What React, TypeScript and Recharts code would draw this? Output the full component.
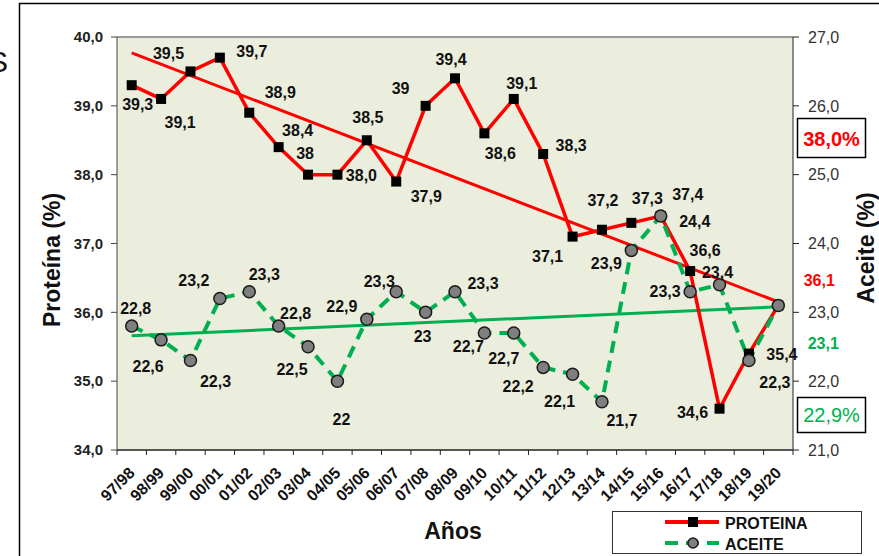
import React from 'react';
import { ComposedChart, Line, XAxis, YAxis, CartesianGrid, ReferenceLine, LabelList } from 'recharts';

const SEASONS = ['97/98', '98/99', '99/00', '00/01', '01/02', '02/03', '03/04', '04/05', '05/06', '06/07', '07/08', '08/09', '09/10', '10/11', '11/12', '12/13', '13/14', '14/15', '15/16', '16/17', '17/18', '18/19', '19/20'];
const PROTEINA = [39.3, 39.1, 39.5, 39.7, 38.9, 38.4, 38.0, 38.0, 38.5, 37.9, 39.0, 39.4, 38.6, 39.1, 38.3, 37.1, 37.2, 37.3, 37.4, 36.6, 34.6, 35.4, 36.1];
const ACEITE = [22.8, 22.6, 22.3, 23.2, 23.3, 22.8, 22.5, 22.0, 22.9, 23.3, 23.0, 23.3, 22.7, 22.7, 22.2, 22.1, 21.7, 23.9, 24.4, 23.3, 23.4, 22.3, 23.1];
const PROT_LABELS = ['39,3', '39,1', '39,5', '39,7', '38,9', '38,4', '38', '38,0', '38,5', '37,9', '39', '39,4', '38,6', '39,1', '38,3', '37,1', '37,2', '37,3', '37,4', '36,6', '34,6', '35,4', '36,1'];
const ACE_LABELS = ['22,8', '22,6', '22,3', '23,2', '23,3', '22,8', '22,5', '22', '22,9', '23,3', '23', '23,3', '22,7', '22,7', '22,2', '22,1', '21,7', '23,9', '24,4', '23,3', '23,4', '22,3', '23,1'];
// trend line end values (first and last season)
const PROT_TREND = [39.77, 36.15];
const ACE_TREND = [22.66, 23.08];
const LEFT_TICKS = [34, 35, 36, 37, 38, 39, 40];
const RIGHT_TICKS = [21, 22, 23, 24, 25, 26, 27];

// label placement around each point (dx, dy)
const PROT_OFF = [[6, 19], [19, 24], [-22, -18], [32, -6], [31, -20], [19, -17], [-3, -21], [24, 1], [1, -23], [30, 15], [-25, -17], [-4, -19], [16, 20], [8, -15], [28, -9], [-25, 20], [1, -29], [16, -24], [27, -21], [15, -21], [-27, 4], [33, 1], [41, -25]];
const ACE_OFF = [[4, -18], [-13, 27], [25, 21], [-26, -18], [15, -17], [17, -13], [-16, 23], [4, 38], [-25, -13], [-17, -10], [-3, 24], [28, -8], [-16, 14], [-10, 26], [-25, 19], [-13, 27], [20, 19], [-25, 13], [34, 6], [-25, 0], [-2, -12], [26, 22], [45, 38]];

const FONT = "'Liberation Sans', Arial, sans-serif";
const RED = '#ff0000';
const GREEN = '#00b050';
const W = 879;
const H = 556;
const PLOT_L = 117;
const PLOT_R = 793;
const BAND = (PLOT_R - PLOT_L) / SEASONS.length;

const data = SEASONS.map((s, i) => ({
  season: s,
  prot: PROTEINA[i],
  ace: ACEITE[i],
  trendP: i === 0 ? PROT_TREND[0] : i === SEASONS.length - 1 ? PROT_TREND[1] : null,
  trendA: i === 0 ? ACE_TREND[0] : i === SEASONS.length - 1 ? ACE_TREND[1] : null,
}));

const fmt = (v: number) => v.toFixed(1).replace('.', ',');

const SquareDot = (p: any) => (
  <rect key={`sq-${p.index}`} x={p.cx - 5} y={p.cy - 5} width={10} height={10} fill="#000" />
);

const CircleDot = (p: any) => (
  <circle key={`ci-${p.index}`} cx={p.cx} cy={p.cy} r={6} fill="#7f7f7f" stroke="#1a1a1a" strokeWidth={1.5} />
);

const makeLabel = (texts: string[], offsets: number[][], lastColor: string) => (p: any) => {
  const i = p.index;
  const [dx, dy] = offsets[i];
  return (
    <text key={`lb-${i}`} x={p.x + dx} y={p.y + dy} textAnchor="middle" dominantBaseline="central"
      fontSize={16} fontWeight="bold" fontFamily={FONT} fill={i === texts.length - 1 ? lastColor : '#111'}>
      {texts[i]}
    </text>
  );
};

const SeasonTick = (p: any) => {
  const { x, y, payload, index } = p;
  const ay = y - 8;
  const last = index === SEASONS.length - 1;
  return (
    <g>
      <line x1={x - BAND / 2} x2={x - BAND / 2} y1={ay} y2={ay + 5} stroke="#222" />
      {last && <line x1={x + BAND / 2} x2={x + BAND / 2} y1={ay} y2={ay + 5} stroke="#222" />}
      <text x={x + 4} y={ay + 24} textAnchor="end" fontSize={16} fontWeight="bold" fontFamily={FONT} fill="#111"
        transform={`rotate(-45, ${x + 4}, ${ay + 24})`}>
        {payload.value}
      </text>
    </g>
  );
};

export default function App() {
  return (
    <div style={{ position: 'fixed', left: 0, top: 0, width: W, height: H, background: '#fff' }}>
      <ComposedChart width={W} height={H} data={data} margin={{ top: 37, right: 26, bottom: 46, left: 57 }}>
        <CartesianGrid yAxisId="left" horizontal={false} vertical={false} fill="#ebeedd" />
        <XAxis dataKey="season" scale="band" interval={0} height={60} tickLine={false} tickSize={6} tickMargin={2}
          axisLine={{ stroke: '#222', strokeWidth: 1.5 }} tick={SeasonTick} />
        <YAxis yAxisId="left" width={60} domain={[34, 40]} ticks={LEFT_TICKS} tickFormatter={fmt}
          tickSize={6} tickMargin={8} axisLine={{ stroke: '#444' }} tickLine={{ stroke: '#444' }}
          tick={{ fontSize: 15, fontWeight: 'bold', fill: '#222', fontFamily: FONT }} />
        <YAxis yAxisId="right" orientation="right" width={60} domain={[21, 27]} ticks={RIGHT_TICKS} tickFormatter={fmt}
          tickSize={6} tickMargin={9} axisLine={{ stroke: '#222' }} tickLine={{ stroke: '#222' }}
          tick={{ fontSize: 16, fill: '#333', fontFamily: FONT }} />
        <ReferenceLine yAxisId="left" y={40} stroke="#9a9a9a" strokeWidth={2} />
        <Line yAxisId="left" dataKey="trendP" connectNulls stroke={RED} strokeWidth={3} dot={false} activeDot={false} isAnimationActive={false} />
        <Line yAxisId="right" dataKey="trendA" connectNulls stroke={GREEN} strokeWidth={3} dot={false} activeDot={false} isAnimationActive={false} />
        <Line yAxisId="left" dataKey="prot" stroke={RED} strokeWidth={3.5} dot={SquareDot} activeDot={false} isAnimationActive={false}>
          <LabelList dataKey="prot" content={makeLabel(PROT_LABELS, PROT_OFF, RED)} />
        </Line>
        <Line yAxisId="right" dataKey="ace" stroke={GREEN} strokeWidth={4} strokeDasharray="12 8" dot={CircleDot} activeDot={false} isAnimationActive={false}>
          <LabelList dataKey="ace" content={makeLabel(ACE_LABELS, ACE_OFF, GREEN)} />
        </Line>
      </ComposedChart>
      <svg width={W} height={H} style={{ position: 'absolute', left: 0, top: 0, pointerEvents: 'none' }} fontFamily={FONT}>
        <path d={`M19.5 ${H} L19.5 3.5 L${W} 3.5`} fill="none" stroke="#000" strokeWidth={1.5} />
        <text x={8} y={72} textAnchor="end" fontSize={30} fill="#111">S</text>
        <text x={0} y={0} transform="translate(60, 260) rotate(-90)" textAnchor="middle" fontSize={23} fontWeight="bold" fill="#111">Proteína (%)</text>
        <text x={0} y={0} transform="translate(874, 248) rotate(-90)" textAnchor="middle" fontSize={23} fontWeight="bold" fill="#111">Aceite (%)</text>
        <text x={453} y={539} textAnchor="middle" fontSize={23} fontWeight="bold" fill="#111">Años</text>
        <rect x={797.5} y={118.5} width={68} height={39} fill="#fff" stroke="#000" strokeWidth={1.5} />
        <text x={831.5} y={139} textAnchor="middle" dominantBaseline="central" fontSize={20} fontWeight="bold" fill={RED}>38,0%</text>
        <rect x={797.5} y={397.5} width={68} height={35} fill="#fff" stroke="#000" strokeWidth={1.5} />
        <text x={831.5} y={415} textAnchor="middle" dominantBaseline="central" fontSize={20} fill={GREEN}>22,9%</text>
        <rect x={612.5} y={511.5} width={249} height={42} fill="#fff" stroke="#333" />
        <line x1={665} x2={719} y1={522} y2={522} stroke={RED} strokeWidth={4} />
        <rect x={688} y={517} width={10} height={10} fill="#000" />
        <text x={725} y={523} dominantBaseline="central" fontSize={16} fontWeight="bold" fill="#111">PROTEINA</text>
        <line x1={665} x2={719} y1={543} y2={543} stroke={GREEN} strokeWidth={4} strokeDasharray="13 8" />
        <circle cx={693} cy={543} r={5} fill="#7f7f7f" stroke="#1a1a1a" strokeWidth={1.5} />
        <text x={725} y={544} dominantBaseline="central" fontSize={16} fontWeight="bold" fill="#111">ACEITE</text>
      </svg>
    </div>
  );
}
